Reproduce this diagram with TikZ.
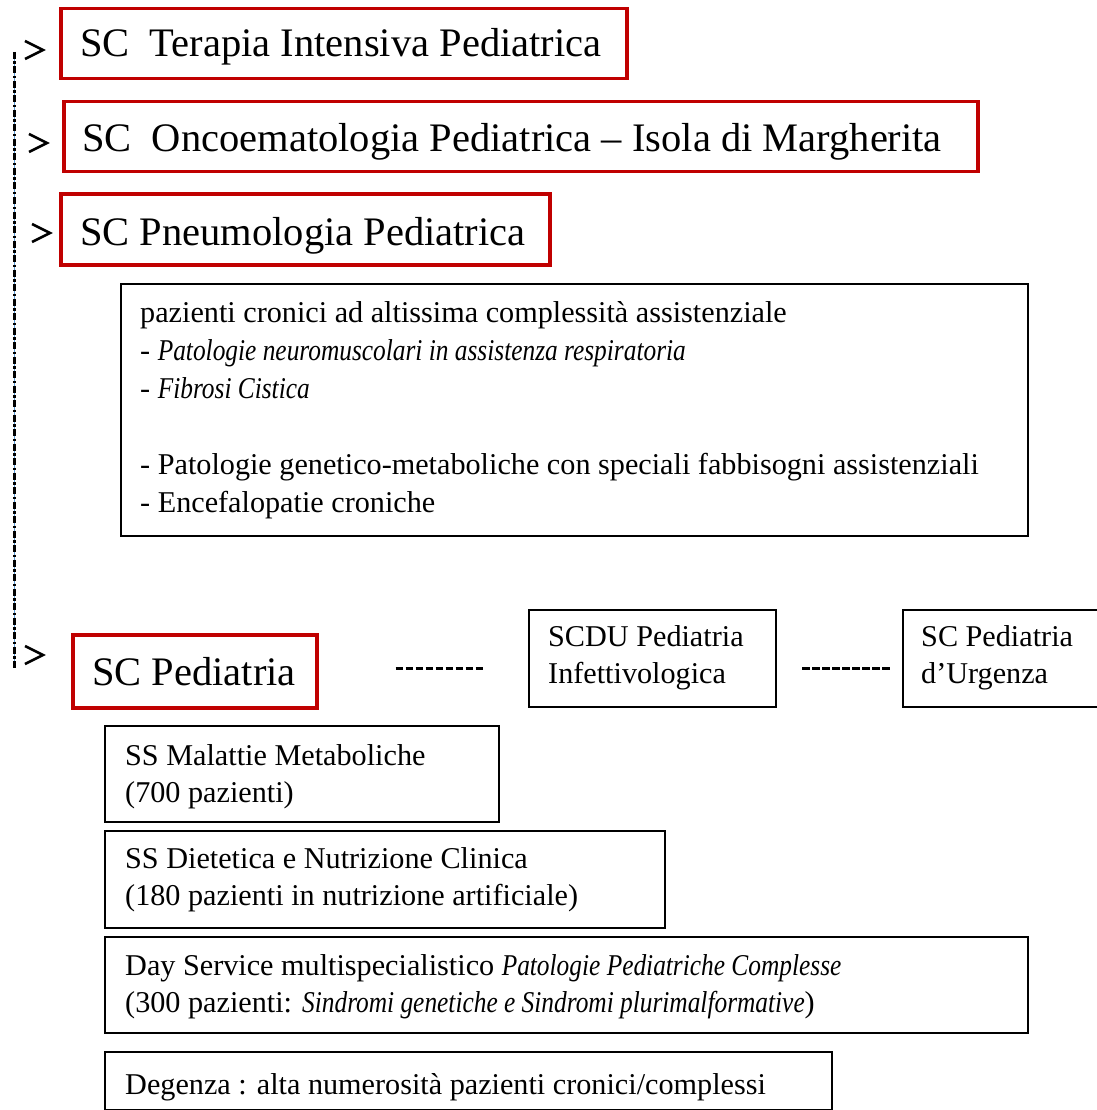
\documentclass[tikz,border=0pt]{standalone}
\usepackage{fontspec}
\setmainfont{Liberation Serif}[ItalicFeatures={FakeStretch=0.84}]
\usetikzlibrary{calc}
\definecolor{cred}{RGB}{192,0,0}
\definecolor{cblue}{RGB}{91,155,213}
\begin{document}
\begin{tikzpicture}[x=1pt,y=-1pt,
  redbox/.style={draw=cred, line width=3.5pt, anchor=north west, inner sep=0pt},
  blkbox/.style={draw=black, line width=2pt, anchor=north west, inner sep=0pt},
  bigtxt/.style={anchor=base west, inner sep=0pt, font=\fontsize{40.5}{44}\selectfont},
  midtxt/.style={anchor=base west, inner sep=0pt, align=left, font=\fontsize{30.2}{37}\selectfont},
  chev/.style={draw=black, line width=2.6pt},
  dashlink/.style={draw=black, line width=3pt, dash pattern=on 7.5pt off 2.5pt},
]
\useasboundingbox (0,0) rectangle (1096,1110);

% left vertical line
\coordinate (vtop) at (14,52);
\coordinate (vbot) at (14,668);
\draw[cblue, line width=1pt] (vtop) -- (vbot);
\draw[black, line width=3pt, dash pattern=on 7pt off 2.5pt on 2.5pt off 2.5pt] (vtop) -- (vbot);

% red boxes
\node[redbox, minimum width=566, minimum height=70] (tip) at (59,7) {};
\node[bigtxt] (tipt) at ($(tip.north west)+(21,50)$) {SC\ \ Terapia Intensiva Pediatrica};

\node[redbox, minimum width=914, minimum height=70] (onc) at (62,100) {};
\node[bigtxt] (onct) at ($(onc.north west)+(20,52)$) {SC\ \ Oncoematologia Pediatrica – Isola di Margherita};

\node[redbox, minimum width=489, minimum height=71] (pne) at (59,192) {};
\node[bigtxt] (pnet) at ($(pne.north west)+(21,53)$) {SC Pneumologia Pediatrica};

\node[redbox, minimum width=244, minimum height=73] (ped) at (71,633) {};
\node[bigtxt] (pedt) at ($(ped.north west)+(21,52)$) {SC Pediatria};

% chevrons
\draw[chev] (25,41) -- (43,50) -- (25,59);
\draw[chev] (29,134) -- (47,143) -- (29,152);
\draw[chev] (32,224) -- (50,233) -- (32,242);
\draw[chev] (25,646) -- (43,655) -- (25,664);

% big black box
\node[blkbox, minimum width=907, minimum height=252] (cron) at (120,283) {};
\node[midtxt, font=\fontsize{30.2}{38}\selectfont] (cront) at ($(cron.north west)+(20,229)$) {pazienti cronici ad altissima complessità assistenziale\\
- \textit{Patologie neuromuscolari in assistenza respiratoria}\\
- \textit{Fibrosi Cistica}\\[38pt]
- Patologie genetico-metaboliche con speciali fabbisogni assistenziali\\
- Encefalopatie croniche};

% side boxes
\node[blkbox, minimum width=247, minimum height=97] (scdu) at (528,609) {};
\node[midtxt] (scdut) at ($(scdu.north west)+(20,74)$) {SCDU Pediatria\\Infettivologica};

\node[blkbox, minimum width=230, minimum height=97] (urg) at (902,609) {};
\node[midtxt] (urgt) at ($(urg.north west)+(19,74)$) {SC Pediatria\\d’Urgenza};

\draw[dashlink] ([xshift=77]ped.east |- 0,668) -- ([xshift=-45]scdu.west |- 0,668);
\draw[dashlink] ([xshift=25]scdu.east |- 0,668) -- ([xshift=-10]urg.west |- 0,668);

% lower boxes
\node[blkbox, minimum width=394, minimum height=96] (met) at (104,725) {};
\node[midtxt] (mett) at ($(met.north west)+(21,77)$) {SS Malattie Metaboliche\\(700 pazienti)};

\node[blkbox, minimum width=560, minimum height=97] (diet) at (104,830) {};
\node[midtxt] (dietd) at ($(diet.north west)+(21,75)$) {SS Dietetica e Nutrizione Clinica\\(180 pazienti in nutrizione artificiale)};

\node[blkbox, minimum width=923, minimum height=96] (day) at (104,936) {};
\node[midtxt] (dayt) at ($(day.north west)+(21,76)$) {Day Service multispecialistico \textit{Patologie Pediatriche Complesse}\\(300 pazienti: \textit{Sindromi genetiche e Sindromi plurimalformative})};

\node[blkbox, minimum width=727, minimum height=58] (deg) at (104,1051) {};
\node[midtxt] (degt) at ($(deg.north west)+(21,43)$) {Degenza : alta numerosità pazienti cronici/complessi};
\end{tikzpicture}
\end{document}
